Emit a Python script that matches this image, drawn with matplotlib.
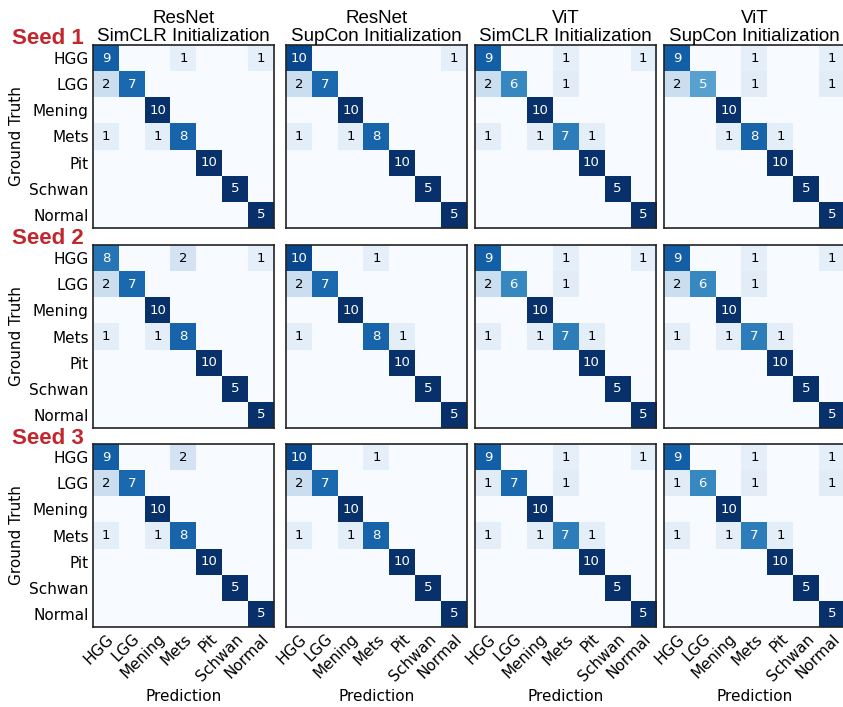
import numpy as np
import matplotlib
matplotlib.use("Agg")
import matplotlib.pyplot as plt

classes = ["HGG", "LGG", "Mening", "Mets", "Pit", "Schwan", "Normal"]
models = ["ResNet\nSimCLR Initialization", "ResNet\nSupCon Initialization",
          "ViT\nSimCLR Initialization", "ViT\nSupCon Initialization"]
seeds = ["Seed 1", "Seed 2", "Seed 3"]

# rows Pit / Schwan / Normal are the same in every run
pit = [0, 0, 0, 0, 10, 0, 0]
schwan = [0, 0, 0, 0, 0, 5, 0]
normal = [0, 0, 0, 0, 0, 0, 5]
mening = [0, 0, 10, 0, 0, 0, 0]

# seed 1
resnet_simclr_s1 = [[9, 0, 0, 1, 0, 0, 1], [2, 7, 0, 0, 0, 0, 0], mening,
                    [1, 0, 1, 8, 0, 0, 0], pit, schwan, normal]
resnet_supcon_s1 = [[10, 0, 0, 0, 0, 0, 1], [2, 7, 0, 0, 0, 0, 0], mening,
                    [1, 0, 1, 8, 0, 0, 0], pit, schwan, normal]
vit_simclr_s1 = [[9, 0, 0, 1, 0, 0, 1], [2, 6, 0, 1, 0, 0, 0], mening,
                 [1, 0, 1, 7, 1, 0, 0], pit, schwan, normal]
vit_supcon_s1 = [[9, 0, 0, 1, 0, 0, 1], [2, 5, 0, 1, 0, 0, 1], mening,
                 [0, 0, 1, 8, 1, 0, 0], pit, schwan, normal]

# seed 2
resnet_simclr_s2 = [[8, 0, 0, 2, 0, 0, 1], [2, 7, 0, 0, 0, 0, 0], mening,
                    [1, 0, 1, 8, 0, 0, 0], pit, schwan, normal]
resnet_supcon_s2 = [[10, 0, 0, 1, 0, 0, 0], [2, 7, 0, 0, 0, 0, 0], mening,
                    [1, 0, 0, 8, 1, 0, 0], pit, schwan, normal]
vit_simclr_s2 = [[9, 0, 0, 1, 0, 0, 1], [2, 6, 0, 1, 0, 0, 0], mening,
                 [1, 0, 1, 7, 1, 0, 0], pit, schwan, normal]
vit_supcon_s2 = [[9, 0, 0, 1, 0, 0, 1], [2, 6, 0, 1, 0, 0, 0], mening,
                 [1, 0, 1, 7, 1, 0, 0], pit, schwan, normal]

# seed 3
resnet_simclr_s3 = [[9, 0, 0, 2, 0, 0, 0], [2, 7, 0, 0, 0, 0, 0], mening,
                    [1, 0, 1, 8, 0, 0, 0], pit, schwan, normal]
resnet_supcon_s3 = [[10, 0, 0, 1, 0, 0, 0], [2, 7, 0, 0, 0, 0, 0], mening,
                    [1, 0, 1, 8, 0, 0, 0], pit, schwan, normal]
vit_simclr_s3 = [[9, 0, 0, 1, 0, 0, 1], [1, 7, 0, 1, 0, 0, 0], mening,
                 [1, 0, 1, 7, 1, 0, 0], pit, schwan, normal]
vit_supcon_s3 = [[9, 0, 0, 1, 0, 0, 1], [1, 6, 0, 1, 0, 0, 1], mening,
                 [1, 0, 1, 7, 1, 0, 0], pit, schwan, normal]

grid = [
    [resnet_simclr_s1, resnet_supcon_s1, vit_simclr_s1, vit_supcon_s1],
    [resnet_simclr_s2, resnet_supcon_s2, vit_simclr_s2, vit_supcon_s2],
    [resnet_simclr_s3, resnet_supcon_s3, vit_simclr_s3, vit_supcon_s3],
]

W, H = 843, 707
fig = plt.figure(figsize=(W / 100, H / 100), dpi=100)

lefts = [93, 286, 475, 664]
tops = [45, 245, 444]
pw, ph = 181, 183

title_font = ["Liberation Sans", "DejaVu Sans"]

for r in range(3):
    for c in range(4):
        cm = np.array(grid[r][c], dtype=float)
        norm = cm / cm.sum(axis=1, keepdims=True)
        ax = fig.add_axes([lefts[c] / W, 1 - (tops[r] + ph) / H, pw / W, ph / H])
        ax.imshow(norm, cmap="Blues", vmin=0, vmax=1, aspect="auto",
                  interpolation="nearest")
        for i in range(7):
            for j in range(7):
                if cm[i, j] > 0:
                    col = "white" if norm[i, j] > 0.5 else "black"
                    ax.text(j, i, f"{int(cm[i, j])}", ha="center", va="center",
                            fontsize=9.5, color=col)
        for s in ax.spines.values():
            s.set_linewidth(1.2)
            s.set_color("#222222")
        ax.tick_params(length=0, pad=3)
        if c == 0:
            ax.set_yticks(range(7))
            ax.set_yticklabels(classes, fontsize=11)
            ax.set_ylabel("Ground Truth", fontsize=11)
        else:
            ax.set_yticks([])
        if r == 2:
            ax.set_xticks(range(7))
            ax.set_xticklabels(classes, fontsize=11, rotation=45, ha="right",
                               rotation_mode="anchor")
            ax.set_xlabel("Prediction", fontsize=11)
        else:
            ax.set_xticks([])
        if r == 0:
            ax.set_title(models[c], fontsize=13.5, family=title_font,
                         linespacing=1.05, pad=3)

for r in range(3):
    fig.text(12 / W, 1 - (tops[r] - 6) / H, seeds[r], fontsize=16,
             fontweight="bold", color="#c1272d", family=title_font,
             ha="left", va="center")

fig.savefig("out.png", dpi=100)
